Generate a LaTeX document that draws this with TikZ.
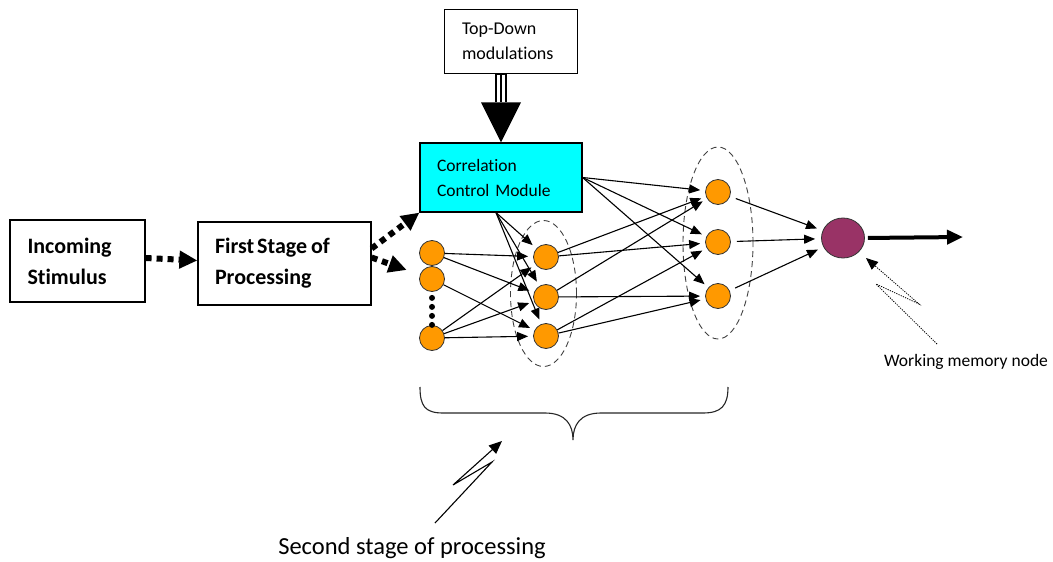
\documentclass[tikz,border=0pt]{standalone}
\usepackage{fontspec}
\setmainfont{Carlito}[Ligatures=NoCommon]
\usetikzlibrary{arrows.meta,shapes.geometric,calc}
\definecolor{orange1}{HTML}{FF9900}
\definecolor{maroon1}{HTML}{993366}
\definecolor{cyan1}{HTML}{00FFFF}
\begin{document}
\begin{tikzpicture}[x=1pt,y=-1pt,
 box/.style={draw, line width=1.2pt, inner sep=0pt, align=left},
 neuron/.style={circle, draw=black!80, line width=0.8pt, fill=orange1, minimum size=25pt, inner sep=0pt},
 conn/.style={line width=1.1pt, -{Triangle[length=11pt,width=9pt]}, shorten >=5pt},
 bigdot/.style={line width=6pt, dash pattern=on 6pt off 5pt, -{Triangle[length=18pt,width=17pt]}},
 grp/.style={draw=black!75, dash pattern=on 6pt off 4pt, line width=0.9pt, ellipse, inner sep=0pt},
 zig/.style={line width=0.9pt, line join=miter},
]
\useasboundingbox (0,0) rectangle (1053,562);

% boxes
\node[box, minimum width=135pt, minimum height=82pt, text width=100pt,
  font=\bfseries\fontsize{22}{31}\selectfont] (inc) at (77.5,261) {Incoming\\Stimulus};
\node[box, minimum width=173pt, minimum height=83pt, text width=139pt,
  font=\bfseries\fontsize{22}{31}\selectfont] (fs) at (284.5,263.5) {First\hspace{3pt}Stage\hspace{4pt}of\\Processing};
\node[box, fill=cyan1, minimum width=162pt, minimum height=69pt, text width=128pt,
  font=\fontsize{17.5}{25}\selectfont] (ccm) at (501,177.5) {Correlation\\Control Module};
\node[box, line width=1pt, minimum width=133pt, minimum height=64pt, text width=97pt,
  font=\fontsize{18}{25}\selectfont] (td) at (510.5,41) {Top-Down\\modulations};

% groups
\node[grp, minimum width=66pt, minimum height=146pt] (grp2) at (543.5,293.5) {};
\node[grp, minimum width=70pt, minimum height=192pt] (grp3) at (718,243) {};

% neurons
\node[neuron] (in1) at (432,253) {};
\node[neuron] (in2) at (432,279) {};
\node[neuron] (in3) at (432,338) {};
\node[neuron] (m1) at (546,257) {};
\node[neuron] (m2) at (546,297) {};
\node[neuron] (m3) at (546,336) {};
\node[neuron] (o1) at (718,192) {};
\node[neuron] (o2) at (718,242) {};
\node[neuron] (o3) at (718,296) {};
\node[ellipse, draw=black!80, line width=0.8pt, fill=maroon1, minimum width=43pt, minimum height=40pt, inner sep=0pt] (wm) at (843,238) {};

% dots between input neurons
\draw[line width=6pt, line cap=round, dash pattern=on 0pt off 9pt] ([yshift=-6pt]in2.south) -- (in3.north);

% top-down triple arrow
\coordinate (tdt) at (ccm.north |- td.south);
\coordinate (tdh) at ($(ccm.north)+(0,-40)$);
\draw[line width=12pt] (tdt) -- (tdh);
\draw[white, line width=8pt, shorten <=1pt] (tdt) -- (tdh);
\draw[line width=1.6pt] (tdt) -- (tdh);
\fill ($(tdh)+(-20,0)$) -- ($(tdh)+(20,0)$) -- (ccm.north) -- cycle;

% dotted thick arrows
\draw[bigdot] ([yshift=3pt]inc.east) -- ([yshift=3pt]fs.west);
\draw[bigdot] ([yshift=15pt]fs.east) -- (ccm.south west);
\draw[bigdot, shorten >=14pt] ([yshift=6pt]fs.east) -- (in2);

% CCM -> layers
\coordinate (ccmb) at ([xshift=-5pt]ccm.south);
\draw[conn] (ccmb) -- (m1);
\draw[conn] (ccmb) -- (m2);
\draw[conn] (ccmb) -- (m3);
\draw[conn] (ccm.east) -- (o1);
\draw[conn] (ccm.east) -- (o2);
\draw[conn] (ccm.east) -- (o3);

% input -> layer 2
\draw[conn] (in1) -- (m1);
\draw[conn] (in1) -- (m2);
\draw[conn] (in2) -- (m3);
\draw[conn] (in3) -- (m1);
\draw[conn] (in3) -- (m2);
\draw[conn] (in3) -- (m3);

% layer 2 -> layer 3
\draw[conn] (m1) -- (o1);
\draw[conn] (m1) -- (o2);
\draw[conn] (m2) -- (o1);
\draw[conn] (m2) -- (o3);
\draw[conn] (m3) -- (o2);
\draw[conn] (m3) -- (o3);

% layer 3 -> working memory
\draw[conn, shorten <=6pt, shorten >=6pt] (o1) -- (wm);
\draw[conn, shorten <=6pt, shorten >=6pt] (o2) -- (wm);
\draw[conn, shorten <=6pt, shorten >=6pt] (o3) -- (wm);

% output
\coordinate (out) at (963,237);
\draw[line width=4pt, -{Triangle[length=16pt,width=14pt]}, shorten <=3pt] (wm.east) -- (out);

% working memory label and zigzag pointer
\node[font=\fontsize{17.5}{20}\selectfont] (wml) at (966,362) {Working memory node};
\coordinate (wz1) at (937,344);
\coordinate (wtip) at (866,258);
\draw[zig, line width=0.8pt, dash pattern=on 1.2pt off 1.2pt, -{Triangle[length=12pt,width=10pt]}]
  (wz1) -- (876,284) -- (919,304) -- (wtip);

% brace
\draw[line width=1.1pt, black!85] (420,387) .. controls (420,406) and (425,413) .. (443,413)
  -- (545,413) .. controls (566,413) and (573,425) .. (573,440)
  .. controls (573,425) and (580,413) .. (601,413)
  -- (703,413) .. controls (721,413) and (728,406) .. (728,387);

% second stage label and zigzag pointer
\node[font=\fontsize{24.5}{28}\selectfont] (ssl) at (412,548) {Second stage of processing};
\coordinate (sz1) at (435,523);
\coordinate (stip) at (502,441);
\draw[zig, line width=1.1pt, -{Triangle[length=13pt,width=11pt]}]
  (sz1) -- (492,462) -- (453,485) -- (stip);
\end{tikzpicture}
\end{document}
